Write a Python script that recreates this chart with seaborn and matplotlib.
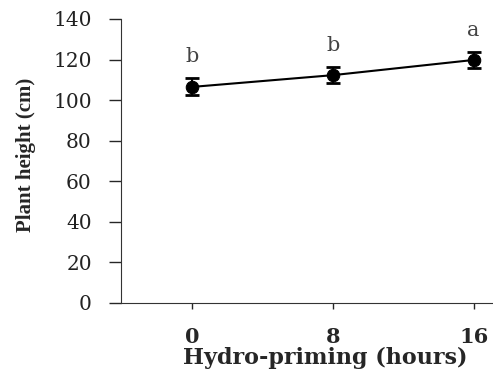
import numpy as np
import pandas as pd
import seaborn as sns
import matplotlib.pyplot as plt

# values
hours = [0, 8, 16]
height = [106.5, 112.3, 119.8]
err = [4.2, 4.0, 3.8]
letters = ["b", "b", "a"]
yticks = [0, 20, 40, 60, 80, 100, 120, 140]

df = pd.DataFrame({"hours": hours, "height": height})

sns.set_style("ticks")
fig = plt.figure(figsize=(4.93, 3.72), dpi=100)
ax = fig.add_axes([0.2454, 0.1855, 0.7546, 0.7635])

sns.lineplot(data=df, x="hours", y="height", ax=ax, color="black",
             marker="o", markersize=9, linewidth=1.5, markeredgecolor="black")
ax.errorbar(hours, height, yerr=err, fmt="none", ecolor="black",
            elinewidth=1.5, capsize=5, capthick=2)
for h, v, e, lab in zip(hours, height, err, letters):
    ax.text(h, v + e + 6, lab, ha="center", va="bottom",
            fontsize=15, family="DejaVu Serif", color="#444444")

ax.set_xlim(-4.03, 17.1)
ax.set_ylim(0, 140)
ax.set_xticks(hours)
ax.set_xticklabels([str(h) for h in hours], fontsize=15,
                   family="DejaVu Serif", fontweight="bold")
ax.set_yticks(yticks)
ax.set_yticklabels([str(t) for t in yticks], fontsize=14.5,
                   family="DejaVu Serif", color="#222222")
ax.tick_params(axis="y", length=9, width=1, pad=12)
ax.tick_params(axis="x", length=4, width=1, pad=13)
ax.set_xlabel("Hydro-priming (hours)", fontsize=16, family="DejaVu Serif",
              fontweight="bold", labelpad=0)
ax.xaxis.set_label_coords(0.55, -0.155)
ax.set_ylabel("Plant height (cm)", fontsize=15, family="Liberation Serif",
              fontweight="bold", labelpad=0)
ax.yaxis.set_label_coords(-0.228, 0.52)
for s in ["top", "right"]:
    ax.spines[s].set_visible(False)
ax.spines["left"].set_color("#333333")
ax.spines["bottom"].set_color("#333333")

fig.savefig("out.png", dpi=100)
